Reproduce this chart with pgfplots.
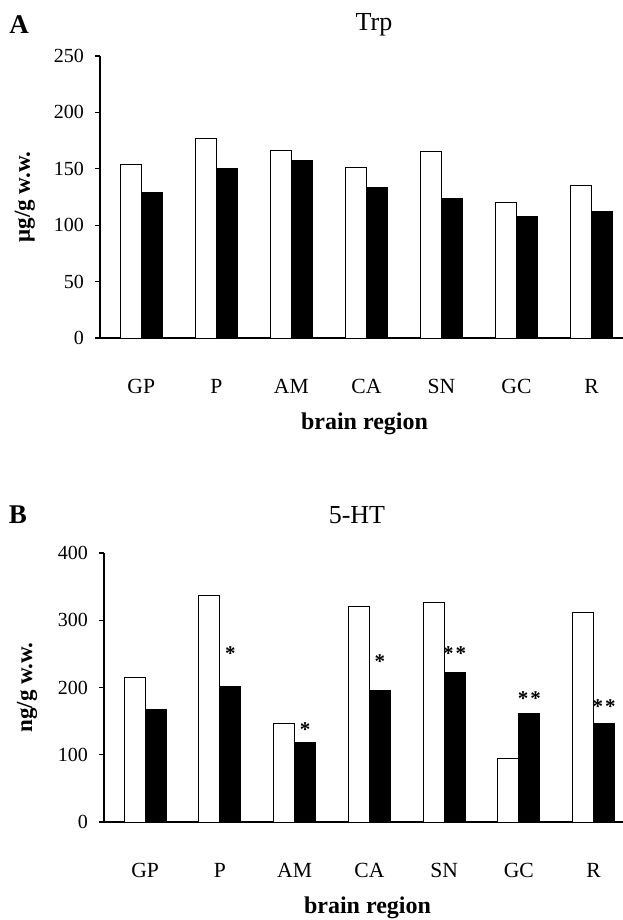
\documentclass[border=0pt]{standalone}
\usepackage{fontspec}
\setmainfont{Liberation Serif}
\usepackage{pgfplots}
\pgfplotsset{compat=1.18}

% common look of both panels (1 px of the scan = 0.5pt)
\pgfplotsset{
  brainbars/.style={
    scale only axis,
    ybar=0pt, bar width=10.5pt,
    axis x line=bottom, axis y line=left,
    axis line style={-, line width=0.8pt},
    xmin=-0.55, xmax=6.5, ymin=0,
    xtick=data, xticklabels={GP,P,AM,CA,SN,GC,R},
    x tick style={draw=none},
    xticklabel style={font=\fontsize{10.8}{12}\selectfont, yshift=-14.5pt},
    tick align=outside, major tick length=2.5pt,
    y tick style={line width=0.6pt, black},
    yticklabel style={font=\fontsize{10}{11}\selectfont, xshift=-2pt},
    /pgf/number format/assume math mode=true,
    xlabel={brain region},
    xlabel style={font=\fontsize{12}{14}\selectfont\bfseries,
      at={(axis description cs:0.5,0)}, anchor=center, yshift=-43pt},
    ylabel style={font=\fontsize{11.5}{14}\selectfont\bfseries, anchor=center},
    title style={font=\fontsize{13}{15}\selectfont, anchor=center},
    clip=false,
  },
  whitebar/.style={fill=white, draw=black, line width=0.5pt},
  blackbar/.style={fill=black, draw=black, line width=0.5pt},
}
\tikzset{
  star/.style={font=\fontsize{10.5}{12}\selectfont\bfseries, anchor=center, xshift=5.25pt, yshift=-2pt},
  panel/.style={font=\fontsize{13.5}{16}\selectfont\bfseries},
}

\begin{document}
\begin{tikzpicture}
\useasboundingbox (0,0) rectangle (311pt,-460pt);

% A: Trp
\begin{axis}[brainbars,
  at={(50pt,-169pt)}, anchor=south west,
  width=264.5pt, height=141pt,
  ymax=250, ytick={0,50,...,250},
  ylabel={μg/g w.w.}, ylabel style={at={(axis description cs:-0.142,0.5)}},
  title={Trp}, title style={at={(axis description cs:0.518,1)}, yshift=9.5pt},
]
\addplot[whitebar] coordinates {(0,154) (1,177) (2,166) (3,151) (4,165) (5,120.5) (6,135)};
\addplot[blackbar] coordinates {(0,129) (1,150) (2,157) (3,133) (4,124) (5,107.5) (6,112)};
\node[panel, xshift=-40.5pt, yshift=15.5pt] at (rel axis cs:0,1) {A};
\end{axis}

% B: 5-HT
\begin{axis}[brainbars,
  at={(52pt,-411pt)}, anchor=south west,
  width=263.5pt, height=134.5pt,
  ymax=400, ytick={0,100,...,400},
  ylabel={ng/g w.w.}, ylabel style={at={(axis description cs:-0.146,0.5)}},
  title={5-HT}, title style={at={(axis description cs:0.48,1)}, yshift=13pt},
]
\addplot[whitebar] coordinates {(0,215) (1,337) (2,147) (3,321) (4,326) (5,94) (6,311)};
\addplot[blackbar] coordinates {(0,168) (1,202) (2,117.5) (3,196) (4,223) (5,162) (6,146)};
\node[star] at (axis cs:1,257) {*};
\node[star] at (axis cs:2,144) {*};
\node[star] at (axis cs:3,244) {*};
\node[star] at (axis cs:4,257) {*\kern1pt*};
\node[star] at (axis cs:5,189) {*\kern1pt*};
\node[star] at (axis cs:6,177) {*\kern1pt*};
\node[panel, xshift=-43pt, yshift=19pt] at (rel axis cs:0,1) {B};
\end{axis}
\end{tikzpicture}
\end{document}
